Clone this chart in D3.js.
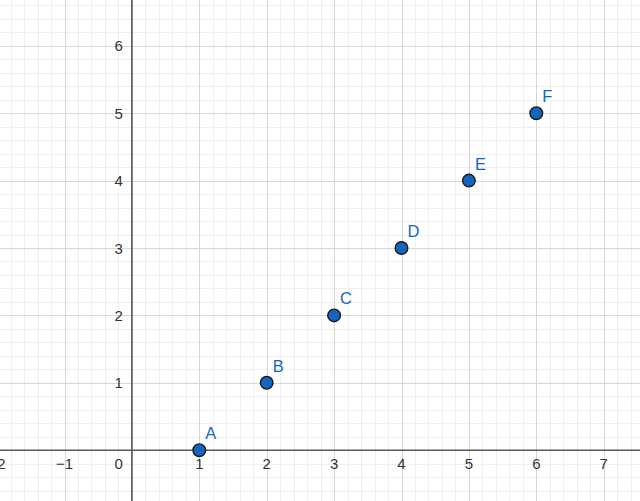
<!DOCTYPE html>
<html><head><meta charset="utf-8">
<script src="https://d3js.org/d3.v7.min.js"></script>
<style>html,body{margin:0;padding:0;background:#fff;}svg{display:block;}</style>
</head><body>
<svg id="c" width="640" height="501"></svg>
<script>
const pointLabels = ["A","B","C","D","E","F"];
const pointX = [1,2,3,4,5,6];
const pointY = [0,1,2,3,4,5];
const xTicks = [-2,-1,1,2,3,4,5,6,7];
const yTicks = [1,2,3,4,5,6];

const W = 640, H = 501;
const unit = 67.4, ox = 131.9, oy = 450.2;
const x = d3.scaleLinear().domain([-ox/unit, (W-ox)/unit]).range([0, W]);
const y = d3.scaleLinear().domain([-(H-oy)/unit, oy/unit]).range([H, 0]);
const svg = d3.select("#c");

const minorX = d3.range(Math.ceil(x.domain()[0]*5), Math.floor(x.domain()[1]*5)+1).map(i=>i/5);
const minorY = d3.range(Math.ceil(y.domain()[0]*5), Math.floor(y.domain()[1]*5)+1).map(i=>i/5);
const g = svg.append("g");
g.selectAll(".mx").data(minorX.filter(v=>Math.abs(v*5%5)>1e-6)).join("line")
 .attr("x1",d=>Math.round(x(d))+0.5).attr("x2",d=>Math.round(x(d))+0.5).attr("y1",0).attr("y2",H)
 .attr("stroke","#efefef").attr("stroke-width",1);
g.selectAll(".my").data(minorY.filter(v=>Math.abs(v*5%5)>1e-6)).join("line")
 .attr("y1",d=>Math.round(y(d))+0.5).attr("y2",d=>Math.round(y(d))+0.5).attr("x1",0).attr("x2",W)
 .attr("stroke","#efefef").attr("stroke-width",1);
const majorX = d3.range(Math.ceil(x.domain()[0]), Math.floor(x.domain()[1])+1);
const majorY = d3.range(Math.ceil(y.domain()[0]), Math.floor(y.domain()[1])+1);
g.selectAll(".Mx").data(majorX).join("line")
 .attr("x1",d=>Math.round(x(d))+0.5).attr("x2",d=>Math.round(x(d))+0.5).attr("y1",0).attr("y2",H)
 .attr("stroke","#d6d6d6").attr("stroke-width",1);
g.selectAll(".My").data(majorY).join("line")
 .attr("y1",d=>Math.round(y(d))+0.5).attr("y2",d=>Math.round(y(d))+0.5).attr("x1",0).attr("x2",W)
 .attr("stroke","#d6d6d6").attr("stroke-width",1);

// axes
svg.append("line").attr("x1",0).attr("x2",W).attr("y1",y(0)).attr("y2",y(0)).attr("stroke","#5a5a5a").attr("stroke-width",1.6);
svg.append("line").attr("y1",0).attr("y2",H).attr("x1",x(0)).attr("x2",x(0)).attr("stroke","#5a5a5a").attr("stroke-width",1.6);

const font = "'Liberation Sans', Arial, sans-serif";
svg.selectAll(".xt").data(xTicks).join("text")
 .attr("x",d=>x(d)).attr("y",y(0)+19).attr("text-anchor","middle")
 .attr("font-family",font).attr("font-size",15).attr("fill","#333")
 .text(d=>d<0?"\u2212"+Math.abs(d):d);
svg.append("text").attr("x",x(0)-9).attr("y",y(0)+19).attr("text-anchor","end")
 .attr("font-family",font).attr("font-size",15).attr("fill","#333").text("0");
svg.selectAll(".yt").data(yTicks).join("text")
 .attr("x",x(0)-9).attr("y",d=>y(d)+5.5).attr("text-anchor","end")
 .attr("font-family",font).attr("font-size",15).attr("fill","#333").text(d=>d);

const pts = pointLabels.map((l,i)=>({l, x:pointX[i], y:pointY[i]}));
svg.selectAll(".pt").data(pts).join("circle")
 .attr("cx",d=>x(d.x)).attr("cy",d=>y(d.y)).attr("r",6.3)
 .attr("fill","#1565c0").attr("stroke","#1a1a1a").attr("stroke-width",1.4);
svg.selectAll(".pl").data(pts).join("text")
 .attr("x",d=>x(d.x)+6).attr("y",d=>y(d.y)-11)
 .attr("font-family",font).attr("font-size",16.5).attr("fill","#1565c0")
 .text(d=>d.l);
</script>
</body></html>
